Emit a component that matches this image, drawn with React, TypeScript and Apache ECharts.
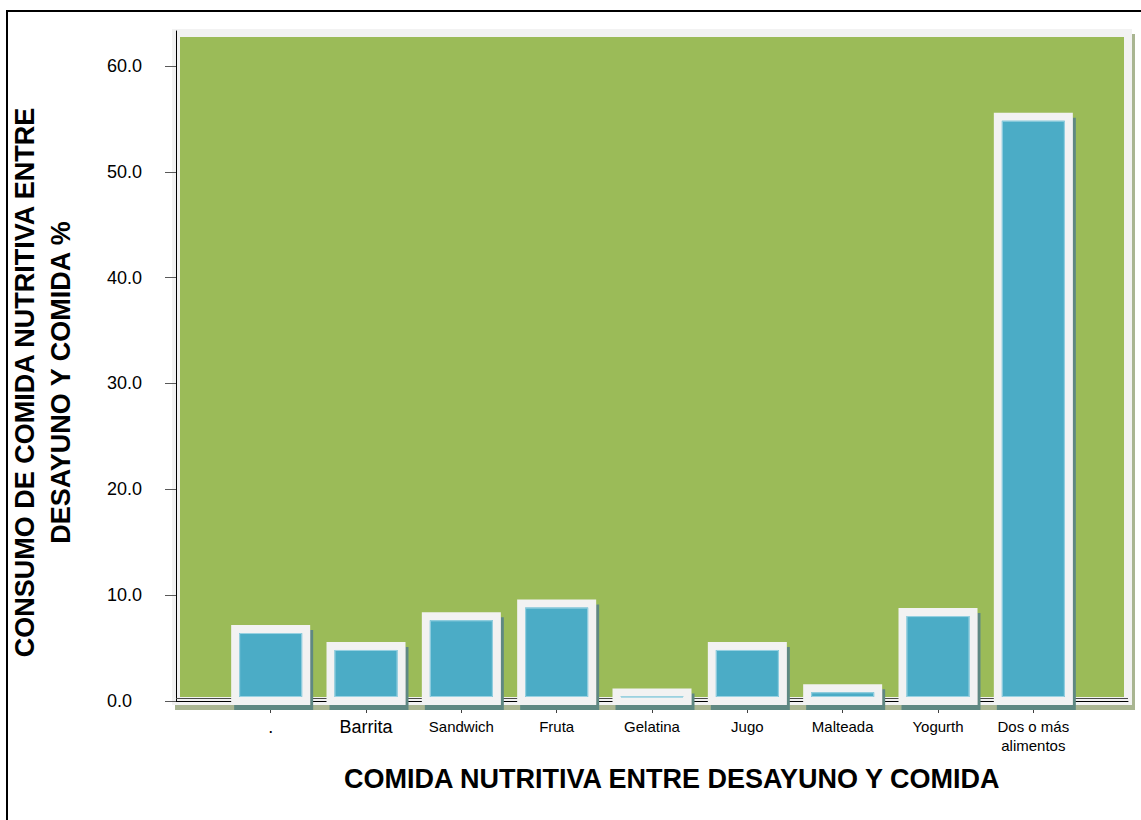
import React, { useEffect, useRef } from 'react';
import * as echarts from 'echarts';

const categories = ['.', 'Barrita', 'Sandwich', 'Fruta', 'Gelatina', 'Jugo', 'Malteada', 'Yogurth', 'Dos o más\nalimentos'];
const values = [6.8, 5.2, 8.0, 9.2, 0.8, 5.2, 1.2, 8.4, 55.2];
const yTicks = [0, 10, 20, 30, 40, 50, 60];
const largeLabels = ['.', 'Barrita'];
const xTitle = 'COMIDA NUTRITIVA ENTRE DESAYUNO Y COMIDA';
const yTitle = 'CONSUMO DE COMIDA NUTRITIVA ENTRE\nDESAYUNO Y COMIDA %';

const FONT = '"Liberation Sans", Arial, sans-serif';
const BAR_W = 71;

export default function App() {
  const ref = useRef<HTMLDivElement>(null);
  useEffect(() => {
    if (!ref.current) return;
    const chart = echarts.init(ref.current, undefined, { renderer: 'svg' });
    const renderBar = (params: any, api: any) => {
      const i = api.value(0);
      const v = api.value(1);
      const top = api.coord([i, v]);
      const base = api.coord([i, 0]);
      const x = top[0] - BAR_W / 2;
      const h = base[1] - top[1];
      return {
        type: 'group',
        children: [
          {
            type: 'rect',
            shape: { x, y: top[1], width: BAR_W, height: h },
            style: {
              fill: '#4BACC6', stroke: '#F2F2F2', lineWidth: 8,
              shadowColor: '#5E8882', shadowOffsetX: 3, shadowOffsetY: 5, shadowBlur: 0,
            },
          },
          {
            type: 'rect',
            shape: { x: x + 4.5, y: top[1] + 4.5, width: BAR_W - 9, height: Math.max(0, h - 9) },
            style: { fill: 'none', stroke: '#9AD2E2', lineWidth: 1 },
          },
        ],
      };
    };
    const option: any = {
      animation: false,
      backgroundColor: '#ffffff',
      grid: [
        {
          left: 176, top: 33, width: 952, height: 668, show: true,
          backgroundColor: '#9BBB59', borderColor: '#F2F2F2', borderWidth: 8,
          shadowColor: '#A9B591', shadowOffsetX: 3, shadowOffsetY: 5, shadowBlur: 0,
        },
        { left: 223, top: 31, width: 858, height: 670 },
      ],
      xAxis: [
        {
          gridIndex: 0, type: 'value', min: 0, max: 1,
          axisLine: { show: true, lineStyle: { color: '#000', width: 1 } },
          axisTick: { show: false }, axisLabel: { show: false }, splitLine: { show: false },
        },
        {
          gridIndex: 1, type: 'category',
          data: categories.map((c) => largeLabels.includes(c) ? { value: c, textStyle: { fontSize: 18 } } : c),
          axisLine: { show: false },
          axisTick: { show: true, alignWithLabel: true, length: 12, lineStyle: { color: '#404040' } },
          axisLabel: { interval: 0, margin: 16, fontSize: 15, lineHeight: 19, color: '#000', fontFamily: FONT },
        },
      ],
      yAxis: [
        { gridIndex: 0, type: 'value', show: false, min: 0, max: 1 },
        {
          gridIndex: 1, type: 'value', min: 0, max: 63.3, offset: 47,
          axisLine: { show: true, lineStyle: { color: '#000', width: 1 } },
          axisTick: { show: true, length: 11, customValues: yTicks, lineStyle: { color: '#595959' } },
          axisLabel: {
            customValues: yTicks, formatter: (v: number) => v.toFixed(1), align: 'left', margin: 69,
            fontSize: 18, color: '#000', fontFamily: FONT,
          },
          splitLine: { show: false },
        },
      ],
      series: [
        {
          type: 'custom', xAxisIndex: 1, yAxisIndex: 1,
          data: values.map((v, i) => [i, v]),
          encode: { x: 0, y: 1 },
          renderItem: renderBar,
          clip: false,
        },
      ],
      graphic: [
        {
          type: 'rect', z: 10, silent: true,
          shape: { x: 7, y: 11, width: 1200, height: 900 },
          style: { fill: 'none', stroke: '#000', lineWidth: 2 },
        },
        {
          type: 'line', z: 1, silent: true,
          shape: { x1: 176, y1: 698.5, x2: 1128, y2: 698.5 },
          style: { stroke: '#4a4a4a', lineWidth: 1 },
        },
        {
          type: 'text', z: 10, x: 671.7, y: 779,
          style: {
            text: xTitle, fontSize: 27, fontWeight: 'bold', fontFamily: FONT, fill: '#000',
            align: 'center', verticalAlign: 'middle',
          },
        },
        {
          type: 'text', z: 10, x: 43, y: 382.5, rotation: Math.PI / 2,
          style: {
            text: yTitle, fontSize: 27, fontWeight: 'bold', fontFamily: FONT, fill: '#000',
            align: 'center', verticalAlign: 'middle', lineHeight: 36,
          },
        },
      ],
    };
    chart.setOption(option);
    return () => chart.dispose();
  }, []);
  return (
    <div
      ref={ref}
      style={{ position: 'absolute', left: 0, top: 0, width: 1141, height: 820 }}
    />
  );
}
